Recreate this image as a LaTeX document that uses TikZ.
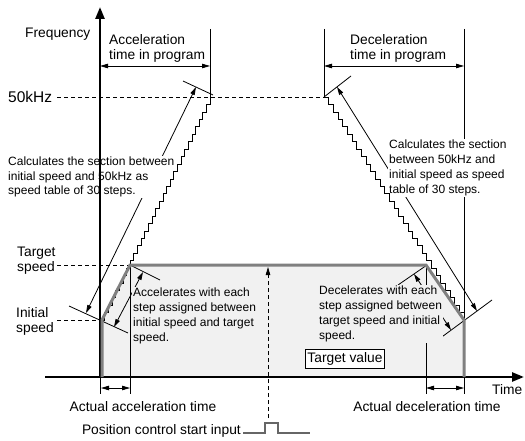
\documentclass[tikz,border=0pt]{standalone}
\usepackage{fontspec}
\setmainfont{Liberation Sans}
\usetikzlibrary{arrows.meta}
\definecolor{prof}{RGB}{128,128,128}
\definecolor{areagray}{RGB}{241,241,241}
\begin{document}
\begin{tikzpicture}[x=1pt,y=-1pt,
  thinline/.style={line width=0.8pt},
  dimarrow/.style={line width=0.8pt,{Triangle[length=8pt,width=4.5pt]}-{Triangle[length=8pt,width=4.5pt]}},
  lbl/.style={font=\fontsize{13.8}{15}\selectfont, inner sep=0pt, align=left},
  note/.style={font=\fontsize{12}{14.8}\selectfont, inner sep=1pt, align=left},
  profile/.style={line width=3pt, color=prof, line join=miter},
  dashline/.style={line width=0.8pt, dash pattern=on 4pt off 3pt},
  axisline/.style={line width=2.5pt, -{Triangle[length=12pt,width=9pt]}},
  stair/.style={line width=0.5pt}]
\useasboundingbox (0,0) rectangle (525,441);

% key coordinates
\coordinate (O) at (101,377);
\coordinate (I) at (101,320);
\coordinate (T1) at (130,265);
\coordinate (T2) at (426,265);
\coordinate (I2) at (464,320);
\coordinate (E) at (464,377);
\coordinate (P1) at (210,97);
\coordinate (P2) at (324,97);

% shaded area
\fill[areagray] (O) -- (I) -- (T1) -- (T2) -- (I2) -- (E) -- cycle;

% dashed level lines
\coordinate (k50) at (57,97);
\coordinate (kts) at (57,265);
\coordinate (kis) at (57,320);
\draw[dashline] (k50) -- (P2);
\draw[dashline] (kts) -- (T1);
\draw[dashline] (kis) -- (I);

% vertical reference lines
\coordinate (a1top) at (210,29);
\coordinate (d1top) at (324,29);
\coordinate (d2top) at (464,29);
\coordinate (d2bot) at (464,394);
\coordinate (a0bot) at (100,394);
\coordinate (a0ax) at (100,377);
\coordinate (t1bot) at (130,394);
\coordinate (t2bot) at (426,394);
\draw[thinline] (a1top) -- (P1);
\draw[thinline] (d1top) -- (P2);
\draw[thinline] (d2top) -- (d2bot);
\draw[thinline] (a0ax) -- (a0bot);
\draw[thinline] (T1) -- (t1bot);
\draw[thinline] (T2) -- (t2bot);

% tick lines across slopes
\coordinate (ta1) at (183,81);  \coordinate (ta2) at (213,95);
\coordinate (tb1) at (69,306);  \coordinate (tb2) at (128,333);
\coordinate (tc1) at (130,265); \coordinate (tc2) at (160,280);
\coordinate (td1) at (324,97);  \coordinate (td2) at (351,76);
\coordinate (te1) at (435,342); \coordinate (te2) at (492,300);
\coordinate (tf1) at (427,265); \coordinate (tf2) at (398,285);
\foreach \p/\q in {ta1/ta2,tb1/tb2,tc1/tc2,td1/td2,te1/te2,tf1/tf2}
  \draw[thinline] (\p) -- (\q);

% slope arrows
\coordinate (la1) at (86,313);  \coordinate (la2) at (196,87);
\coordinate (ld1) at (337,87);  \coordinate (ld2) at (477,311);
\coordinate (sa1) at (114,327); \coordinate (sa2) at (143,272);
\coordinate (sd1) at (414,274); \coordinate (sd2) at (451,330);
\draw[dimarrow] (la1) -- (la2);
\draw[dimarrow] (ld1) -- (ld2);
\draw[dimarrow] (sa1) -- (sa2);
\draw[dimarrow] (sd1) -- (sd2);

% annotation texts (cover lines behind them)
\node[note, fill=white, anchor=west] (calcA) at (7,177)
  {Calculates the section between\\initial speed and 50kHz as\\speed table of 30 steps.};
\node[note, fill=white, anchor=west] (calcD) at (388,168)
  {Calculates the section\\between 50kHz and\\initial speed as speed\\table of 30 steps.};
\node[note, fill=areagray, anchor=west] (accN) at (132,316)
  {Accelerates with each\\step assigned between\\initial speed and target\\speed.};
\node[note, fill=areagray, anchor=west] (decN) at (318,314)
  {Decelerates with each\\step assigned between\\target speed and initial\\speed.};

% staircases
\draw[stair] (I) \foreach \i in {1,...,30}{ -- ++(3.633,0) -- ++(0,-7.433)};
\draw[stair] (P2) \foreach \i in {1,...,30}{ -- ++(4.667,0) -- ++(0,7.433)};

% axes
\coordinate (yax0) at (100,377);
\coordinate (yax1) at (100,7);
\coordinate (xax0) at (45,377);
\coordinate (xax1) at (524,377);
\draw[axisline] (yax0) -- (yax1);
\draw[axisline] (xax0) -- (xax1);

% speed profile
\draw[profile] (102,377) -- (102,320) -- (T1) -- (T2) -- (I2) -- (E);

% start signal
\coordinate (sig) at (268,418);
\coordinate (sigtop) at (268,267);
\draw[dashline, -{Triangle[length=8pt,width=4.5pt]}] (sig) -- (sigtop);
\draw[line width=1.4pt, color=prof!80!black] (243,433) -- (265,433) -- (265,423) -- (278,423) -- (278,433) -- (310,433);

% dimension arrows
\coordinate (da1) at (100,66); \coordinate (da2) at (210,66);
\coordinate (dd1) at (324,66); \coordinate (dd2) at (464,66);
\coordinate (aa1) at (101,388); \coordinate (aa2) at (130,388);
\coordinate (ad1) at (426,388); \coordinate (ad2) at (464,388);
\draw[dimarrow] (da1) -- (da2);
\draw[dimarrow] (dd1) -- (dd2);
\draw[dimarrow] (aa1) -- (aa2);
\draw[dimarrow] (ad1) -- (ad2);

% labels
\node[lbl, anchor=west] (freq) at (25,34) {Frequency};
\node[lbl, anchor=west] (acct) at (109,48) {Acceleration\\time in program};
\node[lbl, anchor=west] (dect) at (350,48) {Deceleration\\time in program};
\node[lbl, anchor=west, font=\fontsize{15.5}{17}\selectfont] (f50) at (8,97) {50kHz};
\node[lbl, anchor=west] (tsp) at (17,261) {Target\\speed};
\node[lbl, anchor=west] (isp) at (16,321) {Initial\\speed};
\node[lbl, draw, line width=0.8pt, fill=white, inner sep=2pt, minimum width=78pt, minimum height=19pt] (tv) at (345,358.5) {Target value};
\node[lbl] (aat) at (143,407) {Actual acceleration time};
\node[lbl] (adt) at (427,407) {Actual deceleration time};
\node[lbl, anchor=west] (time) at (492,390) {Time};
\node[lbl, anchor=east] (pcs) at (241,431) {Position control start input};
\end{tikzpicture}
\end{document}
